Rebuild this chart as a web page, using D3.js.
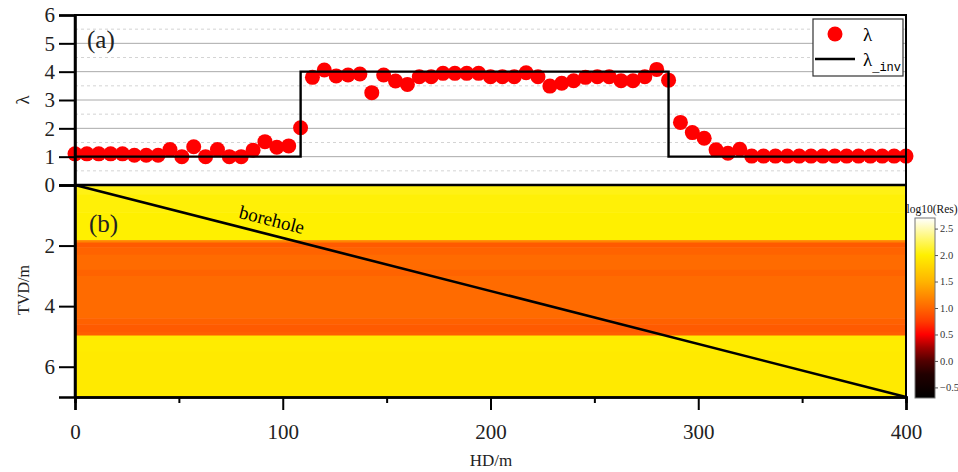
<!DOCTYPE html>
<html>
<head>
<meta charset="utf-8">
<script src="https://cdn.jsdelivr.net/npm/d3@7/dist/d3.min.js"></script>
<style>
  html, body { margin: 0; padding: 0; background: #fff; }
  svg, svg text { font-family: "Liberation Serif", "Times New Roman", "DejaVu Serif", serif; }
</style>
</head>
<body>
<div id="chart"></div>
<script>
const SERIF = '"Liberation Serif", "Times New Roman", "DejaVu Serif", serif';

// λ samples along the well (71 evenly spaced stations, 0..400 m)
const lambdaVals = [
  1.1, 1.1, 1.1, 1.1, 1.1, 1.05, 1.05, 1.05, 1.25, 1.0,
  1.35, 1.0, 1.25, 1.0, 1.0, 1.23, 1.53, 1.33, 1.38, 2.02,
  3.8, 4.06, 3.85, 3.88, 3.92, 3.26, 3.88, 3.67, 3.55, 3.82,
  3.82, 3.94, 3.94, 3.94, 3.94, 3.82, 3.82, 3.82, 3.96, 3.82,
  3.49, 3.59, 3.68, 3.8, 3.82, 3.82, 3.68, 3.68, 3.82, 4.08,
  3.7, 2.21, 1.85, 1.65, 1.24, 1.12, 1.26, 1.02, 1.02, 1.02,
  1.02, 1.02, 1.02, 1.02, 1.02, 1.02, 1.02, 1.02, 1.02, 1.02,
  1.02
];
const stationStep = 400 / 70;

// inverted λ (step curve): segment edges and values
const invEdges = [0, 108.6, 285.7, 400];
const invVals = [1, 4, 1];

// resistivity model: depth edges (m) and log10(Res) per layer
const layerEdges = [0, 0.3, 0.9, 1.82, 1.9, 2.05, 2.3, 2.8, 3.0, 4.4, 4.6, 4.85, 4.97, 5.5, 7.0];
const layerVals  = [2.06, 2.02, 2.0, 1.2, 0.93, 0.98, 1.03, 0.98, 1.03, 0.97, 0.93, 0.96, 1.97, 1.95];

// borehole trajectory (HD, TVD)
const borehole = [[0, 0], [400, 7]];

const lambdaTicks = [0, 1, 2, 3, 4, 5, 6];
const tvdTicks = [2, 4, 6];
const hdTicks = [0, 100, 200, 300, 400];
const hdMinor = [50, 150, 250, 350];
const cbTicks = [-0.5, 0, 0.5, 1, 1.5, 2, 2.5];

// colour map for log10(Res)
const cmapStops = [-0.7, -0.25, 0, 0.25, 0.5, 0.75, 1.0, 1.5, 2.0, 2.3, 2.7];
const cmapColors = ['#000000', '#220000', '#520000', '#a00000', '#ff0000', '#ff3c00',
                    '#ff6600', '#ffb400', '#fff000', '#fff76a', '#ffffff'];

const W = 958, H = 472;
const svg = d3.select('#chart').append('svg').attr('width', W).attr('height', H)
  .attr('font-family', SERIF);

const x = d3.scaleLinear().domain([0, 400]).range([75, 906]);
const yTop = d3.scaleLinear().domain([0, 6]).range([185, 15]);
const yBot = d3.scaleLinear().domain([0, 7]).range([185, 397]);
const color = d3.scaleLinear().domain(cmapStops).range(cmapColors);

// ---- panel (b): heat map
const layers = layerVals.map((v, i) => ({ top: layerEdges[i], bot: layerEdges[i + 1], v }));
svg.append('g').selectAll('rect')
  .data(layers)
  .join('rect')
  .attr('x', x(0))
  .attr('width', x(400) - x(0))
  .attr('y', d => yBot(d.top))
  .attr('height', d => yBot(d.bot) - yBot(d.top) + 0.5)
  .attr('fill', d => color(d.v));

// borehole
svg.append('path')
  .attr('d', d3.line().x(d => x(d[0])).y(d => yBot(d[1]))(borehole))
  .attr('fill', 'none')
  .attr('stroke', '#000')
  .attr('stroke-width', 2.6);

const ang = Math.atan2(yBot(7) - yBot(0), x(400) - x(0)) * 180 / Math.PI;
svg.append('text')
  .attr('transform', `translate(${x(94)},${yBot(1.65) - 9}) rotate(${ang})`)
  .attr('text-anchor', 'middle')
  .style('font-size', '19px')
  .text('borehole');

svg.append('text').attr('x', 89).attr('y', 232).style('font-size', '25px').attr('fill', '#222').text('(b)');

// ---- panel (a)
const grid = svg.append('g');
grid.selectAll('.minor')
  .data(d3.range(0.5, 6, 1))
  .join('line')
  .attr('x1', x(0)).attr('x2', x(400))
  .attr('y1', d => yTop(d)).attr('y2', d => yTop(d))
  .attr('stroke', '#d4d4d4').attr('stroke-dasharray', '3,3');
grid.selectAll('.major')
  .data([1, 2, 3, 4, 5])
  .join('line')
  .attr('x1', x(0)).attr('x2', x(400))
  .attr('y1', d => yTop(d)).attr('y2', d => yTop(d))
  .attr('stroke', '#aaaaaa');

const pts = lambdaVals.map((v, i) => ({ hd: i * stationStep, v }));
svg.append('g').selectAll('circle')
  .data(pts)
  .join('circle')
  .attr('cx', d => x(d.hd))
  .attr('cy', d => yTop(d.v))
  .attr('r', 7.5)
  .attr('fill', '#ff0000');

const stepPts = [];
invVals.forEach((v, i) => { stepPts.push([invEdges[i], v], [invEdges[i + 1], v]); });
svg.append('path')
  .attr('d', d3.line().x(d => x(d[0])).y(d => yTop(d[1]))(stepPts))
  .attr('fill', 'none')
  .attr('stroke', '#000')
  .attr('stroke-width', 2.4);

// frame of (a)
svg.append('rect')
  .attr('x', x(0)).attr('y', yTop(6))
  .attr('width', x(400) - x(0)).attr('height', yTop(0) - yTop(6))
  .attr('fill', 'none').attr('stroke', '#000').attr('stroke-width', 2);
svg.append('line')
  .attr('x1', x(0)).attr('x2', x(400)).attr('y1', yTop(0)).attr('y2', yTop(0))
  .attr('stroke', '#000').attr('stroke-width', 2.5);

svg.append('text').attr('x', 87).attr('y', 48).style('font-size', '25px').attr('fill', '#222').text('(a)');

// legend
const lg = svg.append('g');
lg.append('rect').attr('x', 813).attr('y', 19).attr('width', 90).attr('height', 57)
  .attr('fill', '#fff').attr('stroke', '#333').attr('stroke-width', 1.2);
lg.append('circle').attr('cx', 835).attr('cy', 34).attr('r', 7.5).attr('fill', '#ff0000');
lg.append('text').attr('x', 863).attr('y', 41).style('font-size', '19px').text('λ');
lg.append('line').attr('x1', 815).attr('x2', 855).attr('y1', 59).attr('y2', 59)
  .attr('stroke', '#000').attr('stroke-width', 2.4);
const lt = lg.append('text').attr('x', 863).attr('y', 66).style('font-size', '19px');
lt.append('tspan').text('λ');
lt.append('tspan').attr('dy', 5)
  .style('font-family', '"Liberation Mono", "DejaVu Sans Mono", monospace')
  .style('font-size', '12px').text('_inv');

// ---- axes
const yAxTop = svg.append('g').attr('transform', `translate(${x(0)},0)`)
  .call(d3.axisLeft(yTop).tickValues(lambdaTicks).tickSize(16).tickPadding(4).tickFormat(d3.format('d')));
const yAxBot = svg.append('g').attr('transform', `translate(${x(0)},0)`)
  .call(d3.axisLeft(yBot).tickValues(tvdTicks).tickSize(16).tickPadding(4).tickFormat(d3.format('d')));
const xAx = svg.append('g').attr('transform', `translate(0,${yBot(7)})`)
  .call(d3.axisBottom(x).tickValues(hdTicks).tickSize(13).tickPadding(14).tickFormat(d3.format('d')));
const xMinor = svg.append('g').attr('transform', `translate(0,${yBot(7)})`)
  .call(d3.axisBottom(x).tickValues(hdMinor).tickSize(6).tickFormat(''));

[yAxTop, yAxBot, xAx, xMinor].forEach(g => {
  g.attr('font-family', SERIF).attr('font-size', 21);
  g.select('.domain').attr('stroke', '#000').attr('stroke-width', 2.5);
  g.selectAll('.tick line').attr('stroke', '#000').attr('stroke-width', 2);
  g.selectAll('.tick text').attr('fill', '#222');
});
// left / right axis lines spanning both panels
svg.append('line').attr('x1', x(0)).attr('x2', x(0)).attr('y1', yTop(6)).attr('y2', yBot(7))
  .attr('stroke', '#000').attr('stroke-width', 2.5);
svg.append('line').attr('x1', x(400)).attr('x2', x(400)).attr('y1', yTop(6)).attr('y2', yBot(7))
  .attr('stroke', '#000').attr('stroke-width', 2);

svg.append('text')
  .attr('transform', 'translate(29,100) rotate(-90)')
  .attr('text-anchor', 'middle').style('font-size', '19px').attr('fill', '#222').text('λ');
svg.append('text')
  .attr('transform', 'translate(29,290) rotate(-90)')
  .attr('text-anchor', 'middle').style('font-size', '16px').attr('fill', '#222').text('TVD/m');
svg.append('text')
  .attr('x', 491).attr('y', 466)
  .attr('text-anchor', 'middle').style('font-size', '17px').attr('fill', '#222').text('HD/m');

// ---- colour bar
const cb = d3.scaleLinear().domain([-0.7, 2.7]).range([398, 218]);
const defs = svg.append('defs');
const grad = defs.append('linearGradient').attr('id', 'cbgrad')
  .attr('x1', 0).attr('y1', 1).attr('x2', 0).attr('y2', 0);
grad.selectAll('stop')
  .data(cmapStops)
  .join('stop')
  .attr('offset', d => (d - cmapStops[0]) / (cmapStops[cmapStops.length - 1] - cmapStops[0]))
  .attr('stop-color', d => color(d));
svg.append('rect').attr('x', 915).attr('y', cb(2.7)).attr('width', 20).attr('height', cb(-0.7) - cb(2.7))
  .attr('fill', 'url(#cbgrad)').attr('stroke', '#777').attr('stroke-width', 1);
const cbAx = svg.append('g').attr('transform', 'translate(935,0)')
  .call(d3.axisRight(cb).tickValues(cbTicks).tickSize(3).tickPadding(2).tickFormat(d3.format('.1f')));
cbAx.attr('font-family', SERIF).attr('font-size', 10.5);
cbAx.select('.domain').remove();
cbAx.selectAll('.tick line').attr('stroke', '#555');
cbAx.selectAll('.tick text').attr('fill', '#333');
svg.append('text').attr('x', 932).attr('y', 213).attr('text-anchor', 'middle')
  .style('font-size', '11.5px').attr('fill', '#111').text('log10(Res)');
</script>
</body>
</html>
